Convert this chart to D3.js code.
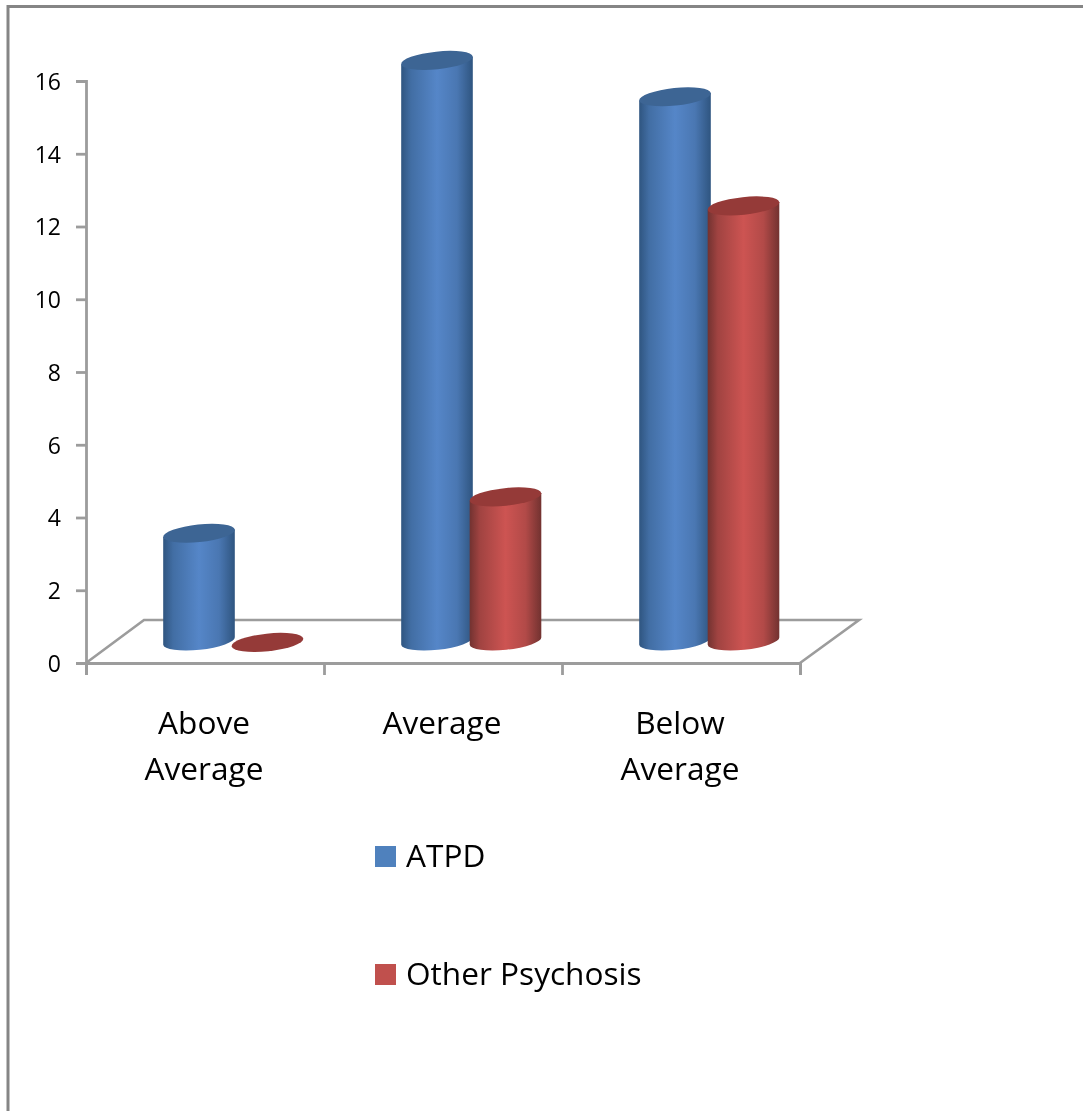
<!DOCTYPE html>
<html><head><meta charset="utf-8">
<script src="https://cdn.jsdelivr.net/npm/d3@7/dist/d3.min.js"></script>
<style>html,body{margin:0;padding:0;background:#fff}svg{display:block;filter:blur(.45px)}text{font-family:"Open Sans",Lato,sans-serif;fill:#000}</style>
</head><body><svg id="c" width="1083" height="1111"></svg>
<script>
const categories = ["Above Average", "Average", "Below Average"];
const categoryLines = [["Above", "Average"], ["Average"], ["Below", "Average"]];
const seriesNames = ["ATPD", "Other Psychosis"];
const atpd = [3, 16, 15];
const otherPsychosis = [0, 4, 12];
const yTicks = [0, 2, 4, 6, 8, 10, 12, 14, 16];
const seriesValues = [atpd, otherPsychosis];
const edge = ["#2f5580", "#723230"], mid = ["#5586c8", "#cd5452"], cap = ["#3d6594", "#953a38"], swatch = ["#4f81bd", "#c0504d"];

const svg = d3.select("#c");
const W = 714, x0 = 86, y0 = 663;
const x = d3.scaleBand().domain(categories).range([x0, x0 + W]);
const y = d3.scaleLinear().domain([0, 16]).range([y0, 81]);
const axisColor = "#9c9c9c";

// frame
svg.append("path").attr("d", "M8,1111V6.5H1083").attr("fill", "none").attr("stroke", "#858585").attr("stroke-width", 3);

// gradients
const defs = svg.append("defs");
seriesNames.forEach((s, i) => {
  const g = defs.append("linearGradient").attr("id", "g" + i);
  [[0, edge[i]], [.14, d3.interpolateRgb(edge[i], mid[i])(.5)], [.5, mid[i]], [.78, d3.interpolateRgb(edge[i], mid[i])(.7)], [1, edge[i]]]
    .forEach(([o, c]) => g.append("stop").attr("offset", o).attr("stop-color", c));
});

// floor
const dx = 58, dy = 43;
svg.append("path").attr("fill", "none").attr("stroke", axisColor).attr("stroke-width", 2.6)
  .attr("d", d3.line()([[x0, y0], [x0 + dx, y0 - dy], [x0 + W + dx + 1, y0 - dy], [x0 + W, y0]]));

// axes
const yAxis = d3.axisLeft(y).tickValues(yTicks).tickSize(10).tickPadding(15);
const yG = svg.append("g").attr("transform", `translate(${x0},0)`).call(yAxis);
yG.selectAll("path,line").attr("stroke", axisColor).attr("stroke-width", 2.8);
yG.selectAll("text").attr("font-size", 23).style("font-family", '"Open Sans"').attr("fill", "#000").attr("dy", "0.36em");

const xAxis = d3.axisBottom(d3.scaleLinear().domain([0, 3]).range([x0, x0 + W])).tickValues([0, 1, 2, 3]).tickSize(12).tickFormat("");
const xG = svg.append("g").attr("transform", `translate(0,${y0})`).call(xAxis);
xG.selectAll("path,line").attr("stroke", axisColor).attr("stroke-width", 2.8);

// cylinders
const rx = 36, ry = 8.8, tilt = -6, t = tilt * Math.PI / 180;
const ex = rx * Math.cos(t), ey = rx * Math.sin(t);
const baseY = y(0) - 22;
const centers = [113, 181.5];
categories.forEach((c, ci) => {
  seriesValues.forEach((vals, si) => {
    const cx = x(c) + centers[si], v = vals[ci];
    const top = y(v) - 20.6;
    const g = svg.append("g");
    if (v > 0) {
      g.append("path").attr("fill", `url(#g${si})`)
        .attr("d", `M${cx - ex},${top - ey}L${cx - ex},${baseY - ey}A${rx},${ry} ${tilt} 0 0 ${cx + ex},${baseY + ey}L${cx + ex},${top + ey}Z`);
    }
    g.append("ellipse").attr("rx", rx).attr("ry", ry).attr("fill", cap[si])
      .attr("transform", `translate(${cx},${top}) rotate(${tilt})`);
  });
});

// category labels
categories.forEach((c, i) => {
  const tx = svg.append("text").attr("text-anchor", "middle").attr("font-size", 31.6);
  categoryLines[i].forEach((l, j) => tx.append("tspan").attr("x", x(c) + x.bandwidth() / 2 - 1).attr("y", 734 + j * 46).text(l));
});

// legend
seriesNames.forEach((s, i) => {
  const ly = 846 + i * 118;
  svg.append("rect").attr("x", 375).attr("y", ly).attr("width", 21).attr("height", 21).attr("fill", swatch[i]);
  svg.append("text").attr("x", 406).attr("y", ly + 21).attr("font-size", 31.6).text(s);
});
</script></body></html>
